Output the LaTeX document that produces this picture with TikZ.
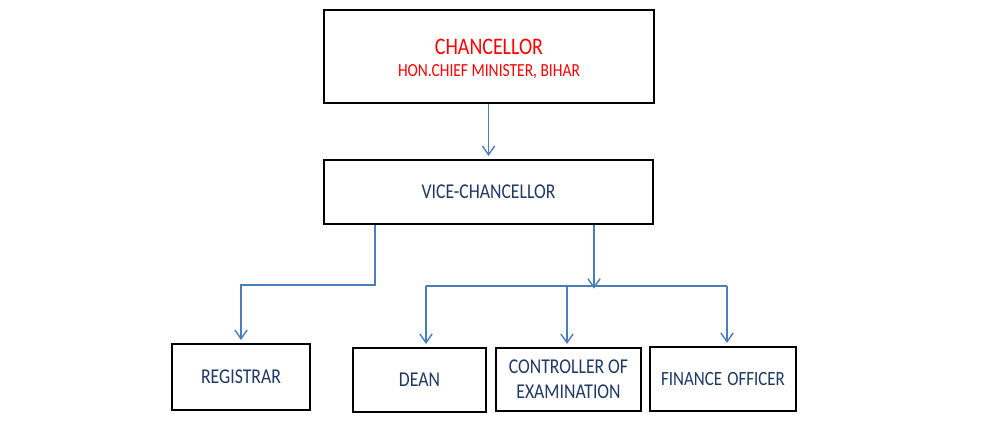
\documentclass[tikz,border=0pt]{standalone}
\usepackage{fontspec}
\setmainfont[FakeStretch=0.84]{Carlito}
\usetikzlibrary{arrows.meta}
\definecolor{linkblue}{HTML}{4A7EBB}
\definecolor{navytext}{HTML}{1F3864}
\definecolor{chancred}{HTML}{FF0000}
\tikzset{
  office/.style={draw=black, line width=1.6pt, fill=white, align=center,
    text=navytext, font=\fontsize{12}{14}\selectfont, inner sep=2pt},
  link/.style={draw=linkblue, line width=0.8pt},
  linkarrow/.style={link, -{Straight Barb[length=5pt,width=7pt]}, shorten >=1.5pt}
}
\begin{document}
\begin{tikzpicture}[x=0.02cm, y=-0.02cm]
  \useasboundingbox (0,0) rectangle (986,443);

  \node[office, minimum width=6.6cm, minimum height=1.86cm, text=chancred] (chanc) at (489,56.5) {};
  \node[text=chancred, align=center, inner sep=0pt] (chanctext) at (489,59)
    {{\fontsize{13.5}{16}\selectfont CHANCELLOR}\\[0pt]{\fontsize{10.5}{12}\selectfont HON.CHIEF MINISTER, BIHAR}};
  \node[office, minimum width=6.58cm, minimum height=1.28cm] (vc) at (488.5,192) {VICE-CHANCELLOR};

  \node[office, minimum width=2.76cm, minimum height=1.32cm] (reg) at (241,377) {REGISTRAR};
  \node[office, minimum width=2.66cm, minimum height=1.28cm] (dean) at (419.5,380) {DEAN};
  \node[office, minimum width=2.9cm, minimum height=1.26cm] (coe) at (568.5,379.5) {CONTROLLER OF\\EXAMINATION};
  \node[office, minimum width=2.92cm, minimum height=1.28cm] (fin) at (723,379)
    {\fontsize{11.5}{13.5}\selectfont FINANCE\hspace{0.25em}OFFICER};

  \coordinate (regturn) at (375,285);
  \coordinate (bus) at (594,286);

  % chancellor to vice-chancellor
  \draw[linkarrow] (chanc.south -| vc.north) -- (vc.north);

  % registrar branch
  \draw[linkarrow] (vc.south -| regturn) -- (regturn) -| (reg.north);

  % right branch with the bus
  \draw[linkarrow] (vc.south -| bus) -- ([yshift=-3]bus);
  \draw[link] (426,286) -- (727,286);
  \draw[linkarrow] (426,286) -- (dean.north -| 426,0);
  \draw[linkarrow] (567,286) -- (coe.north -| 567,0);
  \draw[linkarrow] (727,286) -- (fin.north -| 727,0);
\end{tikzpicture}
\end{document}
